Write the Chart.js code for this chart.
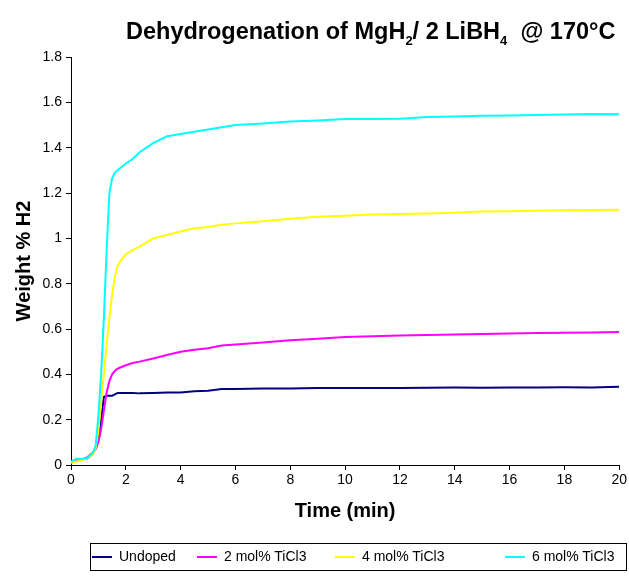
<!DOCTYPE html>
<html>
<head>
<meta charset="utf-8">
<script src="https://cdn.jsdelivr.net/npm/chart.js@4.4.1/dist/chart.umd.min.js"></script>
<style>
  body { margin: 0; background: #fff; font-family: Arial, "Liberation Sans", sans-serif; }
  #wrap { position: relative; width: 629px; height: 576px; }
  #title { position: absolute; left: 126px; top: 18px; font-size: 23.5px; font-weight: bold; white-space: nowrap; color: #000; }
  #title sub { font-size: 13px; vertical-align: -6px; line-height: 0; }
  #legend { position: absolute; left: 90px; top: 543px; width: 537px; height: 28px; border: 1px solid #000; box-sizing: border-box; font-size: 14px; }
  .item { position: absolute; top: 4px; white-space: nowrap; }
  .swatch { display: inline-block; width: 20px; height: 0; border-top: 2px solid; vertical-align: middle; margin-right: 7px; }
</style>
</head>
<body>
<div id="wrap">
  <canvas id="chart" width="629" height="576"></canvas>
  <div id="title">Dehydrogenation of MgH<sub>2</sub>/ 2 LiBH<sub>4</sub>&nbsp; @ 170°C</div>
  <div id="legend"></div>
</div>
<script>
'use strict';

// time in minutes
const times = [0, 0.2, 0.4, 0.6, 0.8, 0.9, 1.0, 1.1, 1.2, 1.3, 1.4, 1.5, 1.6, 1.7, 1.8, 2.0, 2.25, 2.5,
  3, 3.5, 4, 4.5, 5, 5.5, 6, 7, 8, 9, 10, 11, 12, 13, 14, 15, 16, 17, 18, 19, 20];

// weight % H2 for each sample
const undoped = [0.01, 0.02, 0.025, 0.03, 0.05, 0.075, 0.12, 0.20, 0.30, 0.305, 0.305, 0.305, 0.312, 0.318, 0.318, 0.318, 0.318, 0.316,
  0.318, 0.32, 0.32, 0.325, 0.328, 0.335, 0.335, 0.338, 0.338, 0.340, 0.340, 0.340, 0.340, 0.341, 0.342, 0.341, 0.342, 0.342, 0.343, 0.342, 0.345];
const ticl2 = [0.015, 0.02, 0.025, 0.035, 0.055, 0.07, 0.10, 0.16, 0.24, 0.32, 0.37, 0.40, 0.415, 0.425, 0.43, 0.44, 0.45, 0.456,
  0.47, 0.485, 0.50, 0.508, 0.515, 0.527, 0.532, 0.54, 0.55, 0.557, 0.565, 0.568, 0.571, 0.573, 0.576, 0.578, 0.58, 0.582, 0.584, 0.585, 0.587];
const ticl4 = [0.01, 0.015, 0.02, 0.03, 0.05, 0.075, 0.15, 0.28, 0.40, 0.53, 0.65, 0.75, 0.83, 0.88, 0.90, 0.93, 0.948, 0.963,
  1.0, 1.015, 1.03, 1.044, 1.05, 1.06, 1.066, 1.075, 1.086, 1.095, 1.10, 1.105, 1.107, 1.11, 1.113, 1.118, 1.12, 1.122, 1.124, 1.125, 1.126];
const ticl6 = [0.015, 0.028, 0.027, 0.032, 0.055, 0.085, 0.22, 0.40, 0.65, 0.95, 1.20, 1.265, 1.29, 1.30, 1.31, 1.33, 1.35, 1.38,
  1.42, 1.45, 1.46, 1.47, 1.48, 1.49, 1.50, 1.507, 1.515, 1.52, 1.526, 1.526, 1.528, 1.535, 1.537, 1.541, 1.542, 1.544, 1.546, 1.548, 1.547];

const seriesNames = ['Undoped', '2 mol% TiCl3', '4 mol% TiCl3', '6 mol% TiCl3'];
const seriesColors = ['#000080', '#ff00ff', '#ffff00', '#00ffff'];
const allSeries = [undoped, ticl2, ticl4, ticl6];

// legend item left offsets inside the box
const legendLeft = [1, 106, 244, 414];

function toPoints(vals) {
  return times.map((t, i) => ({ x: t, y: vals[i] }));
}

let datasets = [];
for (let i = 0; i < allSeries.length; i++) {
  datasets.push({
    label: seriesNames[i],
    data: toPoints(allSeries[i]),
    borderColor: seriesColors[i],
    borderWidth: 2,
    pointRadius: 0,
    tension: 0,
    order: allSeries.length - i
  });
}

const tickFont = { size: 14, family: 'Arial, Liberation Sans' };
const titleFont = { size: 20, weight: 'bold', family: 'Arial, Liberation Sans' };

const ctx = document.getElementById('chart').getContext('2d');

let myChart = new Chart(ctx, {
  type: 'line',
  data: { datasets: datasets },
  options: {
    responsive: false,
    animation: false,
    layout: { padding: { left: 12, right: 8, top: 57, bottom: 53 } },
    plugins: { legend: { display: false }, tooltip: { enabled: false } },
    scales: {
      x: {
        type: 'linear',
        min: 0,
        max: 20,
        ticks: { stepSize: 2, color: '#000', font: tickFont, padding: 2, maxRotation: 0 },
        grid: { drawOnChartArea: false, tickLength: 5, color: '#000' },
        border: { color: '#000', width: 1 },
        title: { display: true, text: 'Time (min)', color: '#000', padding: 0, font: titleFont },
        afterFit(scale) { scale.height = 58; }
      },
      y: {
        min: 0,
        max: 1.8,
        ticks: {
          stepSize: 0.2, color: '#000', font: tickFont, padding: 4,
          callback: (v) => String(+v.toFixed(1))
        },
        grid: { drawOnChartArea: false, tickLength: 5, color: '#000' },
        border: { color: '#000', width: 1 },
        title: { display: true, text: 'Weight % H2', color: '#000', padding: 0, font: titleFont },
        afterFit(scale) { scale.width = 59; }
      }
    }
  }
});

// legend box
let legendBox = document.getElementById('legend');
for (let i = 0; i < seriesNames.length; i++) {
  let item = document.createElement('div');
  item.className = 'item';
  item.style.left = legendLeft[i] + 'px';
  let sw = document.createElement('span');
  sw.className = 'swatch';
  sw.style.borderTopColor = seriesColors[i];
  item.appendChild(sw);
  item.appendChild(document.createTextNode(seriesNames[i]));
  legendBox.appendChild(item);
}
</script>
</body>
</html>
